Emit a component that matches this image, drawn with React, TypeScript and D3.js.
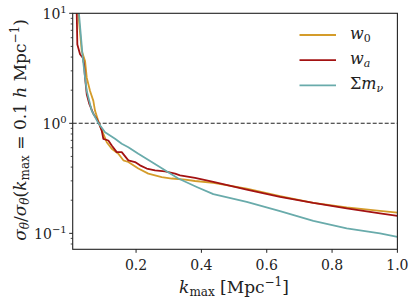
import React from "react";
import * as d3 from "d3";

// k_max values [Mpc^-1] and normalised errors
const kW0 = [0.014, 0.0233, 0.0337, 0.0438, 0.049, 0.0591, 0.0692, 0.0744, 0.0866, 0.1102, 0.1255, 0.1457, 0.161, 0.1763, 0.2069, 0.2375, 0.2785, 0.3092, 0.35, 0.3805, 0.4365, 0.5387, 0.6407, 0.7426, 0.8448, 0.9467, 1.0];
const w0Vals = [16, 9.8, 4.54, 3.69, 2.6, 1.97, 1.6, 1.3, 1.0, 0.674, 0.587, 0.529, 0.461, 0.445, 0.388, 0.349, 0.325, 0.315, 0.308, 0.299, 0.287, 0.255, 0.218, 0.189, 0.172, 0.16, 0.154];

const kWa = [0.012, 0.0184, 0.0202, 0.0285, 0.0367, 0.0407, 0.0438, 0.049, 0.0569, 0.0692, 0.0796, 0.0866, 0.0949, 0.0998, 0.1151, 0.1255, 0.1408, 0.1561, 0.1763, 0.1968, 0.2121, 0.2326, 0.258, 0.2886, 0.3193, 0.3346, 0.3805, 0.4365, 0.5387, 0.6407, 0.7426, 0.8448, 0.9467, 1.0];
const waVals = [16, 9.8, 5.21, 4.24, 3.95, 3.46, 2.6, 1.84, 1.5, 1.22, 1.096, 1.0, 0.859, 0.723, 0.698, 0.629, 0.547, 0.547, 0.461, 0.445, 0.415, 0.388, 0.374, 0.366, 0.349, 0.337, 0.319, 0.293, 0.25, 0.215, 0.189, 0.169, 0.152, 0.144];

const kMnu = [0.018, 0.0254, 0.0367, 0.0438, 0.049, 0.0643, 0.085, 0.105, 0.1203, 0.1356, 0.1561, 0.1763, 0.2069, 0.2479, 0.2886, 0.3294, 0.3857, 0.4365, 0.5387, 0.6407, 0.7426, 0.8448, 0.9467, 1.0];
const mnuVals = [16, 9.8, 3.95, 2.6, 1.97, 1.3, 1.0, 0.829, 0.774, 0.723, 0.652, 0.607, 0.529, 0.445, 0.374, 0.315, 0.264, 0.227, 0.193, 0.159, 0.13, 0.111, 0.1, 0.093];

const xTicks = [0.2, 0.4, 0.6, 0.8, 1.0];
const yMajor = [0.1, 1, 10];
const yMajorExp = ["\u22121", "0", "1"];
const yMinor = [0.08, 0.09, 0.2, 0.3, 0.4, 0.5, 0.6, 0.7, 0.8, 0.9, 2, 3, 4, 5, 6, 7, 8, 9];

const W = 415, H = 308;
const L = 72.7, R = 397.4, T = 13.3, B = 249.3;
const FONT = "DejaVu Serif";

const series = [
  { k: kW0, v: w0Vals, color: "#d49c2a", label: "w", sub: "0" },
  { k: kWa, v: waVals, color: "#a31212", label: "w", sub: "a" },
  { k: kMnu, v: mnuVals, color: "#69abab", label: "\u03a3m", sub: "\u03bd" },
];

export default function App() {
  const x = d3.scaleLinear().domain([0.006, 1.0]).range([L, R]);
  const y = d3.scaleLog().domain([Math.pow(10, -1.145), 10]).range([B, T]);

  const line = d3.line<[number, number]>()
    .x((d) => x(d[0]))
    .y((d) => y(d[1]));

  return (
    <svg width={W} height={H} style={{ position: "absolute", left: 0, top: 0, background: "#fff", fontFamily: FONT }}>
      <defs>
        <clipPath id="plot">
          <rect x={L} y={T} width={R - L} height={B - T} />
        </clipPath>
      </defs>

      {/* reference line at 1 */}
      <line x1={L} x2={R} y1={y(1)} y2={y(1)} stroke="#222" strokeWidth={1.1} strokeDasharray="4,2" />

      <g clipPath="url(#plot)">
        {series.map((s, i) => (
          <path
            key={i}
            d={line(s.k.map((k, j) => [k, s.v[j]] as [number, number])) || ""}
            fill="none"
            stroke={s.color}
            strokeWidth={1.8}
            strokeLinejoin="round"
          />
        ))}
      </g>

      {/* frame */}
      <rect x={L} y={T} width={R - L} height={B - T} fill="none" stroke="#222" strokeWidth={1.1} />

      {/* x ticks */}
      {xTicks.map((t) => (
        <g key={t}>
          <line x1={x(t)} x2={x(t)} y1={B} y2={B + 3.5} stroke="#222" strokeWidth={1} />
          <text x={x(t)} y={B + 21} textAnchor="middle" fontSize={14} fill="#222">{t.toFixed(1)}</text>
        </g>
      ))}

      {/* y ticks */}
      {yMinor.map((t) => (
        <line key={t} x1={L - 2} x2={L} y1={y(t)} y2={y(t)} stroke="#222" strokeWidth={0.8} />
      ))}
      {yMajor.map((t, i) => (
        <g key={t}>
          <line x1={L - 3.5} x2={L} y1={y(t)} y2={y(t)} stroke="#222" strokeWidth={1} />
          <text x={L - 6} y={y(t) + 6} textAnchor="end" fontSize={14} fill="#222">
            10<tspan dy={-6} fontSize={10}>{yMajorExp[i]}</tspan>
          </text>
        </g>
      ))}

      {/* axis labels */}
      <text x={234} y={293} textAnchor="middle" fontSize={17} fill="#222">
        <tspan fontStyle="italic">k</tspan>
        <tspan dy={3} fontSize={12}>max</tspan>
        <tspan dy={-3}> [Mpc</tspan>
        <tspan dy={-7} fontSize={12}>{"\u22121"}</tspan>
        <tspan dy={7}>]</tspan>
      </text>

      <text transform="translate(26,130) rotate(-90)" textAnchor="middle" fontSize={17} fill="#222">
        <tspan fontStyle="italic">{"\u03c3"}</tspan>
        <tspan dy={3} fontSize={12} fontStyle="italic">{"\u03b8"}</tspan>
        <tspan dy={-3}>/</tspan>
        <tspan fontStyle="italic">{"\u03c3"}</tspan>
        <tspan dy={3} fontSize={12} fontStyle="italic">{"\u03b8"}</tspan>
        <tspan dy={-3}>(</tspan>
        <tspan fontStyle="italic">k</tspan>
        <tspan dy={3} fontSize={12}>max</tspan>
        <tspan dy={-3}> = 0.1 </tspan>
        <tspan fontStyle="italic">h</tspan>
        <tspan> Mpc</tspan>
        <tspan dy={-7} fontSize={12}>{"\u22121"}</tspan>
        <tspan dy={7}>)</tspan>
      </text>

      {/* legend */}
      {series.map((s, i) => {
        const ly = 35 + i * 25.2;
        return (
          <g key={i}>
            <line x1={299.5} x2={336} y1={ly} y2={ly} stroke={s.color} strokeWidth={1.8} />
            <text x={350} y={ly + 4} fontSize={16} fill="#222">
              <tspan fontStyle={i === 2 ? "normal" : "italic"}>{i === 2 ? "\u03a3" : s.label}</tspan>
              {i === 2 ? <tspan fontStyle="italic">m</tspan> : null}
              <tspan dy={3} fontSize={11} fontStyle={i === 0 ? "normal" : "italic"}>{s.sub}</tspan>
            </text>
          </g>
        );
      })}
    </svg>
  );
}
